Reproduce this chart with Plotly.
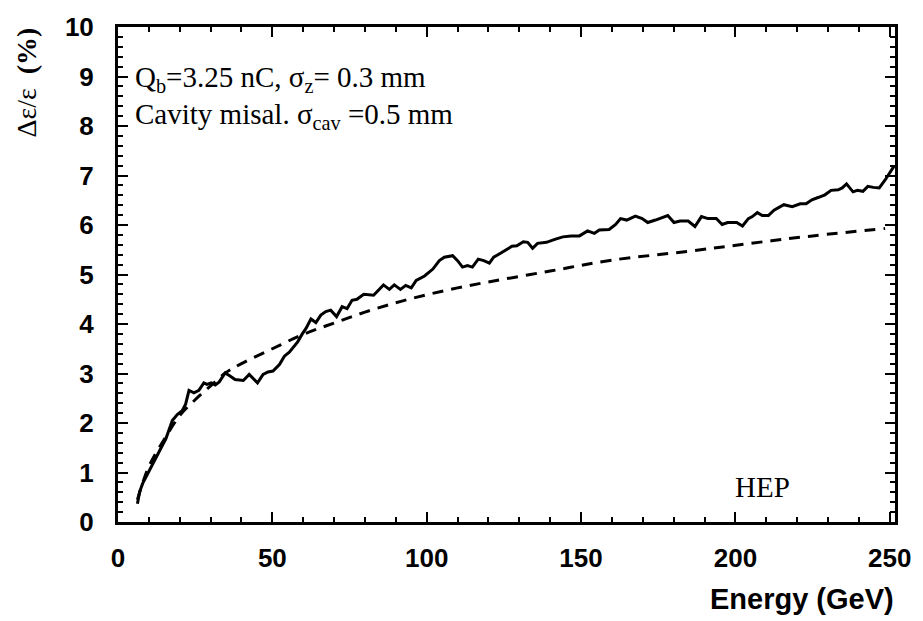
import plotly.graph_objects as go

# Solid curve (simulation)
solid_x = [6.3, 7.0, 8.0, 9.6, 11.2, 12.8, 14.4, 15.5, 16.6, 17.6, 19.2, 20.8, 21.9, 23.0, 24.6,
           26.2, 27.8, 28.8, 30.2, 31.5, 32.8, 34.7, 36.3, 37.9, 40.6, 42.5, 45.2, 47.0, 48.6,
           50.2, 52.3, 53.9, 55.5, 58.2, 59.8, 60.9, 62.5, 64.1, 65.7, 67.3, 68.9, 70.8, 72.6,
           74.2, 75.8, 77.4, 79.6, 82.8, 86.0, 87.9, 89.5, 91.5, 93.2, 95.0, 96.6, 99.3, 102.0,
           104.1, 105.7, 108.4, 110.0, 111.6, 113.2, 114.8, 116.7, 118.5, 120.3, 121.7, 123.9,
           126.0, 127.6, 129.2, 131.3, 132.7, 134.3, 135.9, 138.8, 141.5, 144.1, 146.8, 149.5,
           152.1, 154.3, 155.9, 159.1, 161.2, 162.8, 164.8, 167.6, 169.8, 171.6, 174.1, 176.2,
           178.1, 180.1, 182.1, 184.7, 186.9, 189.0, 191.1, 193.8, 195.7, 197.5, 200.4, 202.3,
           204.2, 205.5, 207.1, 208.7, 210.7, 212.5, 214.1, 215.7, 218.4, 221.0, 222.9, 224.8,
           227.0, 229.0, 231.0, 233.3, 234.6, 236.0, 238.1, 239.5, 241.3, 242.9, 244.7, 246.6,
           248.5, 251.4]
solid_y = [0.37, 0.61, 0.78, 0.98, 1.18, 1.38, 1.55, 1.68, 1.88, 2.05, 2.17, 2.25, 2.38, 2.66, 2.61,
           2.66, 2.81, 2.78, 2.81, 2.77, 2.83, 3.01, 2.95, 2.88, 2.86, 2.98, 2.81, 2.98, 3.03,
           3.05, 3.18, 3.35, 3.43, 3.64, 3.81, 3.91, 4.10, 4.03, 4.18, 4.25, 4.28, 4.15, 4.35,
           4.31, 4.48, 4.50, 4.60, 4.58, 4.79, 4.70, 4.79, 4.70, 4.78, 4.73, 4.88, 4.97, 5.11,
           5.28, 5.35, 5.38, 5.28, 5.15, 5.18, 5.15, 5.31, 5.28, 5.23, 5.35, 5.43,
           5.51, 5.57, 5.58, 5.66, 5.65, 5.53, 5.63, 5.65, 5.71, 5.76, 5.78, 5.78,
           5.88, 5.83, 5.90, 5.91, 6.01, 6.13, 6.10, 6.18, 6.13, 6.05, 6.10, 6.15,
           6.19, 6.05, 6.08, 6.08, 5.97, 6.17, 6.13, 6.13, 6.01, 6.05, 6.05, 5.98,
           6.13, 6.17, 6.25, 6.19, 6.19, 6.30, 6.35, 6.41, 6.37, 6.43, 6.43, 6.51,
           6.56, 6.61, 6.70, 6.71, 6.75, 6.83, 6.67, 6.70, 6.68, 6.78, 6.76, 6.75,
           6.91, 7.19]

# Dashed curve (fit / analytic)
dash_x = [6.3, 10, 15, 20, 25, 30, 35, 40, 50, 60, 70, 80, 90, 100, 110, 120, 140, 160, 185, 205, 225, 248.5]
dash_y = [0.45, 1.12, 1.67, 2.15, 2.47, 2.75, 3.02, 3.20, 3.50, 3.79, 4.02, 4.24, 4.43, 4.59, 4.73, 4.85,
          5.07, 5.29, 5.47, 5.63, 5.78, 5.93]

x_ticks = [0, 50, 100, 150, 200, 250]
y_ticks = [0, 1, 2, 3, 4, 5, 6, 7, 8, 9, 10]

SANS = "Liberation Sans, Arial, sans-serif"
SERIF = "Liberation Serif, Times New Roman, serif"

fig = go.Figure()
fig.add_trace(go.Scatter(x=dash_x, y=dash_y, mode="lines", line=dict(color="black", width=3, dash="11px,8px"),
                         line_shape="spline", showlegend=False, hoverinfo="skip"))
fig.add_trace(go.Scatter(x=solid_x, y=solid_y, mode="lines", line=dict(color="black", width=3),
                         showlegend=False, hoverinfo="skip"))

axis_common = dict(showline=True, linecolor="black", linewidth=3, mirror="ticks", ticks="inside",
                   tickcolor="black", tickwidth=1.5, ticklen=10, showgrid=False, zeroline=False,
                   tickfont=dict(family=SANS, size=26, color="black", weight="bold"))

fig.update_xaxes(range=[0, 251.7], tickvals=x_ticks, ticktext=[str(v) for v in x_ticks],
                 minor=dict(ticks="inside", ticklen=5, tickcolor="black", tickwidth=1.5, dtick=10, tick0=0),
                 ticklabelstandoff=11, **axis_common)
fig.update_yaxes(range=[0, 10], tickvals=y_ticks, ticktext=[str(v) for v in y_ticks],
                 minor=dict(ticks="inside", ticklen=5, tickcolor="black", tickwidth=1.5, dtick=0.2, tick0=0),
                 ticklabelstandoff=16, **axis_common)

fig.add_annotation(xref="paper", yref="paper", x=1.001, y=-0.155, xanchor="right", yanchor="middle",
                   text="<b>Energy (GeV)</b>", showarrow=False,
                   font=dict(family=SANS, size=29, color="black"))
fig.add_annotation(xref="paper", yref="paper", x=-0.119, y=1.002, xanchor="center", yanchor="top",
                   textangle=-90, text="Δε/ε  <b>(%)</b>", showarrow=False,
                   font=dict(family=SERIF, size=28, color="black"))
fig.add_annotation(xref="paper", yref="paper", x=(133 - 118.3) / 785.7, y=(522.3 - 75) / 500,
                   xanchor="left", yanchor="middle",
                   text="Q<sub>b</sub>=3.25 nC, σ<sub>z</sub>= 0.3 mm", showarrow=False,
                   font=dict(family=SERIF, size=29, color="black"))
fig.add_annotation(xref="paper", yref="paper", x=(133 - 118.3) / 785.7, y=(522.3 - 112) / 500,
                   xanchor="left", yanchor="middle",
                   text="Cavity misal. σ<sub>cav</sub> =0.5 mm", showarrow=False,
                   font=dict(family=SERIF, size=29, color="black"))
fig.add_annotation(xref="paper", yref="paper", x=(770 - 118.3) / 785.7, y=(522.3 - 487) / 500,
                   xanchor="center", yanchor="middle", text="HEP", showarrow=False,
                   font=dict(family=SERIF, size=29, color="black"))

fig.update_layout(width=923, height=621, margin=dict(l=118, r=19, t=22, b=99),
                  plot_bgcolor="white", paper_bgcolor="white")

fig.write_html("out.html")
